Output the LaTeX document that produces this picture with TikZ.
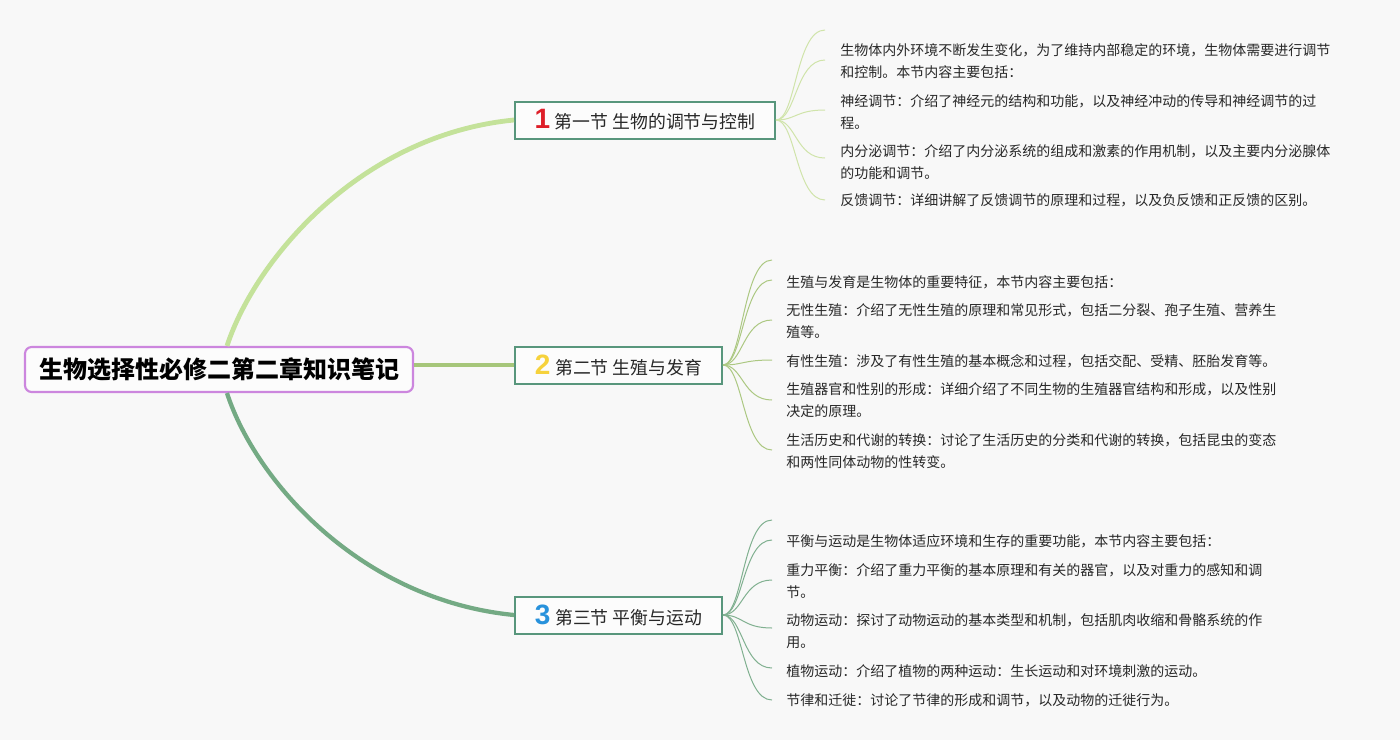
\documentclass[tikz,border=0pt]{standalone}
\usepackage{fontspec}
\setmainfont{Noto Sans CJK SC}
\newfontfamily\numfont{Liberation Sans}
\definecolor{bg}{RGB}{248,248,248}
\definecolor{txt}{RGB}{40,40,40}
\definecolor{rootborder}{RGB}{204,134,222}
\definecolor{secborder}{RGB}{88,150,124}
\definecolor{cA}{RGB}{196,226,154}
\definecolor{cB}{RGB}{166,198,122}
\definecolor{cC}{RGB}{116,170,132}
\definecolor{lA}{RGB}{208,228,170}
\definecolor{lB}{RGB}{172,200,130}
\definecolor{lC}{RGB}{128,176,144}
\definecolor{numA}{RGB}{222,30,40}
\definecolor{numB}{RGB}{246,210,60}
\definecolor{numC}{RGB}{40,146,220}
\tikzset{
  rootbox/.style={draw=rootborder, line width=1.6pt, fill=bg!40!white, rounded corners=5pt,
    minimum width=291pt, minimum height=33.75pt, inner sep=0pt, text=black,
    font=\fontsize{18}{18}\selectfont\bfseries},
  secbox/.style={draw=secborder, line width=1.5pt, fill=bg!40!white,
    minimum height=27.75pt, inner sep=0pt, text=txt,
    font=\fontsize{13.4}{13.4}\selectfont},
  leaf/.style={anchor=west, align=left, inner sep=0pt, text=txt,
    font=\fontsize{10.5}{16.5}\selectfont},
  mainA/.style={draw=cA, line width=3.6pt},
  mainB/.style={draw=cB, line width=3.6pt},
  mainC/.style={draw=cC, line width=3.2pt},
  twigA/.style={draw=lA, line width=0.75pt},
  twigB/.style={draw=lB, line width=0.75pt},
  twigC/.style={draw=lC, line width=0.75pt}
}
\newcommand{\secnum}[2]{\textcolor{#1}{\numfont\bfseries\fontsize{21}{21}\selectfont #2}\hspace{3.5pt}}
\begin{document}
\begin{tikzpicture}[x=0.75pt,y=-0.75pt]
\fill[bg] (0,0) rectangle (1400,740);
\useasboundingbox (0,0) rectangle (1400,740);

% root
\node[rootbox] (root) at (219,369.5) {生物选择性必修二第二章知识笔记};

% sections
\node[secbox, minimum width=195pt] (s1) at (645,120) {\secnum{numA}{1}第一节 生物的调节与控制};
\node[secbox, minimum width=155.25pt] (s2) at (618.5,365) {\secnum{numB}{2}第二节 生殖与发育};
\node[secbox, minimum width=155.25pt] (s3) at (618.5,615) {\secnum{numC}{3}第三节 平衡与运动};

% main connectors
\draw[mainA] ([xshift=6pt]root.north) .. controls (255,260) and (360,135) .. (s1.west);
\draw[mainB] (root.east |- s2.west) -- (s2.west);
\draw[mainC] ([xshift=6pt]root.south) .. controls (255,480) and (360,600) .. (s3.west);

% leaves section 1
\node[leaf] (a1) at (840,61) {生物体内外环境不断发生变化，为了维持内部稳定的环境，生物体需要进行调节\\和控制。本节内容主要包括：};
\node[leaf] (a2) at (840,112) {神经调节：介绍了神经元的结构和功能，以及神经冲动的传导和神经调节的过\\程。};
\node[leaf] (a3) at (840,162) {内分泌调节：介绍了内分泌系统的组成和激素的作用机制，以及主要内分泌腺体\\的功能和调节。};
\node[leaf] (a4) at (840,200) {反馈调节：详细讲解了反馈调节的原理和过程，以及负反馈和正反馈的区别。};

% leaves section 2
\node[leaf] (b1) at (786,282) {生殖与发育是生物体的重要特征，本节内容主要包括：};
\node[leaf] (b2) at (786,321.5) {无性生殖：介绍了无性生殖的原理和常见形式，包括二分裂、孢子生殖、营养生\\殖等。};
\node[leaf] (b3) at (786,361) {有性生殖：涉及了有性生殖的基本概念和过程，包括交配、受精、胚胎发育等。};
\node[leaf] (b4) at (786,400.5) {生殖器官和性别的形成：详细介绍了不同生物的生殖器官结构和形成，以及性别\\决定的原理。};
\node[leaf] (b5) at (786,451) {生活历史和代谢的转换：讨论了生活历史的分类和代谢的转换，包括昆虫的变态\\和两性同体动物的性转变。};

% leaves section 3
\node[leaf] (c1) at (786,541) {平衡与运动是生物体适应环境和生存的重要功能，本节内容主要包括：};
\node[leaf] (c2) at (786,581.5) {重力平衡：介绍了重力平衡的基本原理和有关的器官，以及对重力的感知和调\\节。};
\node[leaf] (c3) at (786,631.5) {动物运动：探讨了动物运动的基本类型和机制，包括肌肉收缩和骨骼系统的作\\用。};
\node[leaf] (c4) at (786,671) {植物运动：介绍了植物的两种运动：生长运动和对环境刺激的运动。};
\node[leaf] (c5) at (786,700) {节律和迁徙：讨论了节律的形成和调节，以及动物的迁徙行为。};

% twig end points
\coordinate (ea1) at (825,30);
\coordinate (ea2) at (825,60);
\coordinate (ea3) at (825,110);
\coordinate (ea4) at (825,158);
\coordinate (ea5) at (825,200);
\coordinate (eb1) at (772,260);
\coordinate (eb2) at (772,280);
\coordinate (eb3) at (772,320);
\coordinate (eb4) at (772,360);
\coordinate (eb5) at (772,400);
\coordinate (eb6) at (772,450);
\coordinate (ec1) at (772,520);
\coordinate (ec2) at (772,540);
\coordinate (ec3) at (772,580);
\coordinate (ec4) at (772,628);
\coordinate (ec5) at (772,668);
\coordinate (ec6) at (772,700);

\foreach \e in {ea1,ea2,ea3,ea4,ea5}
  \draw[twigA] (s1.east) .. controls ([xshift=15pt]s1.east) and ([xshift=-22pt]\e) .. (\e);
\foreach \e in {eb1,eb2,eb3,eb4,eb5,eb6}
  \draw[twigB] (s2.east) .. controls ([xshift=15pt]s2.east) and ([xshift=-22pt]\e) .. (\e);
\foreach \e in {ec1,ec2,ec3,ec4,ec5,ec6}
  \draw[twigC] (s3.east) .. controls ([xshift=15pt]s3.east) and ([xshift=-22pt]\e) .. (\e);
\end{tikzpicture}
\end{document}
